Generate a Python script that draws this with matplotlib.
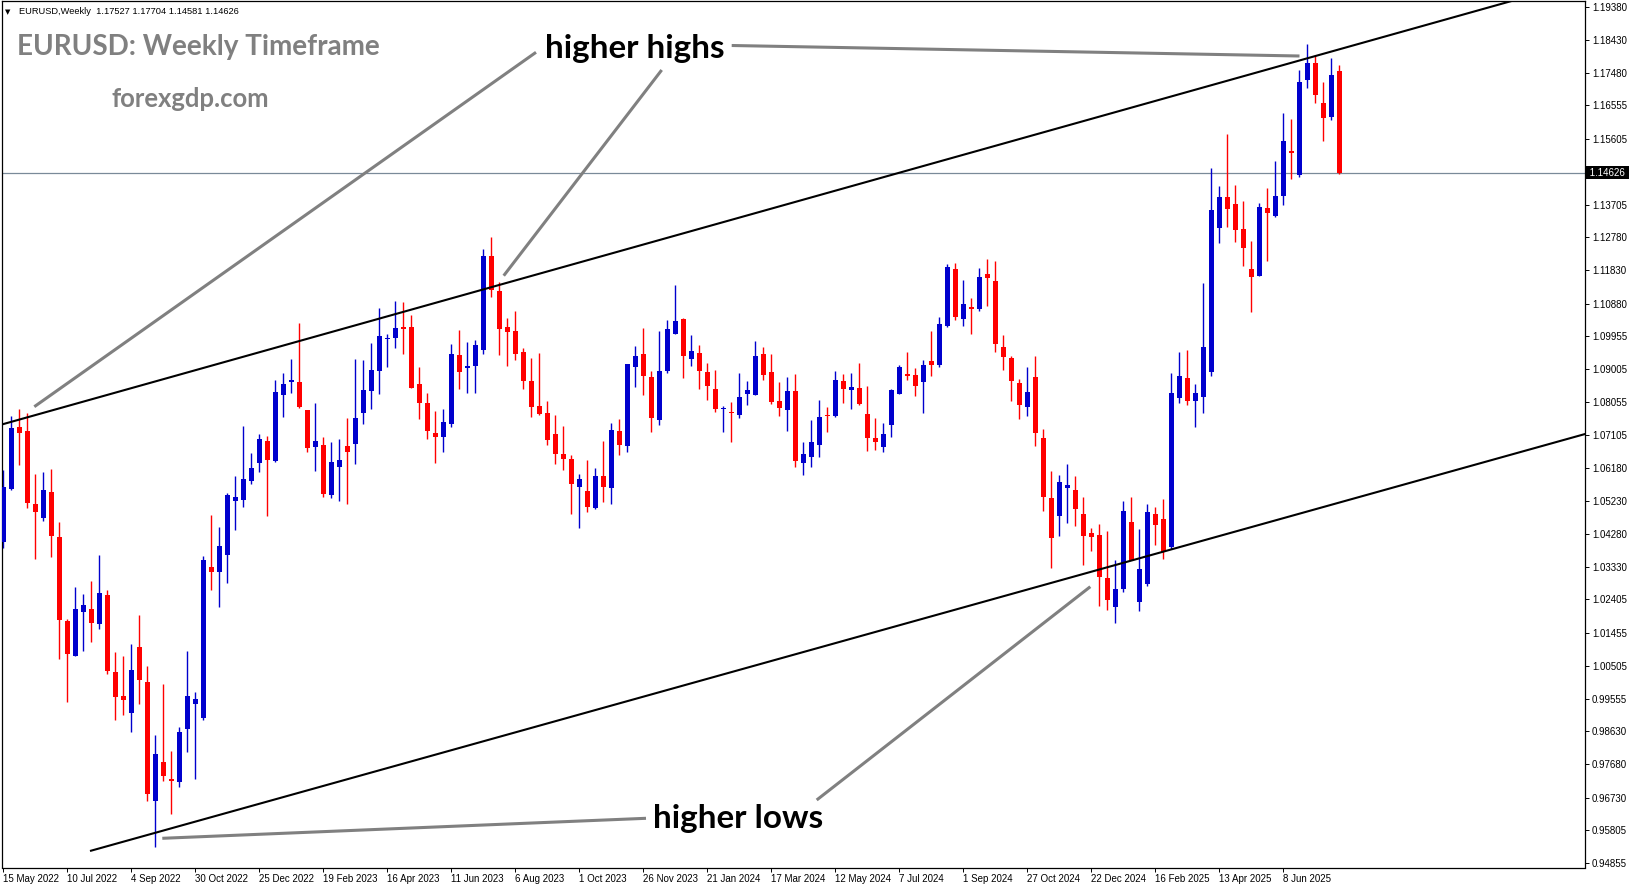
import matplotlib
matplotlib.use("Agg")
import matplotlib.pyplot as plt
import matplotlib.transforms as mtransforms
from matplotlib.lines import Line2D
import numpy as np

# ---------------- data (weekly EURUSD candles, 15 May 2022 .. 27 Jul 2025) ----------------
opens = [1.0406, 1.0557, 1.0734, 1.0723, 1.0514, 1.0475, 1.0548, 1.0419, 1.0179, 1.0077,
         1.0205, 1.0213, 1.0171, 1.0253, 1.0033, 0.9964, 0.9916, 1.0104, 1.0004, 0.9664,
         0.9775, 0.9727, 0.9718, 0.9870, 0.9942, 0.9901, 1.0333, 1.0320, 1.0369, 1.0523,
         1.0525, 1.0580, 1.0631, 1.0694, 1.0638, 1.0827, 1.0863, 1.0863, 1.0783, 1.0678,
         1.0683, 1.0540, 1.0620, 1.0680, 1.0687, 1.0773, 1.0838, 1.0896, 1.0987, 1.0990,
         1.1021, 1.1021, 1.0858, 1.0803, 1.0717, 1.0707, 1.0744, 1.0941, 1.0902, 1.0910,
         1.0956, 1.1225, 1.1124, 1.1021, 1.1009, 1.0949, 1.0866, 1.0795, 1.0774, 1.0715,
         1.0657, 1.0643, 1.0563, 1.0551, 1.0502, 1.0594, 1.0560, 1.0723, 1.0680, 1.0906,
         1.0944, 1.0878, 1.0754, 1.0895, 1.1002, 1.1044, 1.0930, 1.0946, 1.0892, 1.0843,
         1.0785, 1.0776, 1.0770, 1.0830, 1.0827, 1.0944, 1.0892, 1.0809, 1.0784, 1.0838,
         1.0632, 1.0647, 1.0684, 1.0769, 1.0767, 1.0866, 1.0841, 1.0846, 1.0772, 1.0703,
         1.0678, 1.0741, 1.0828, 1.0886, 1.0883, 1.0864, 1.0923, 1.0913, 1.1023, 1.1187,
         1.1045, 1.1078, 1.1073, 1.1173, 1.1153, 1.0964, 1.0932, 1.0860, 1.0793, 1.0878,
         1.0703, 1.0531, 1.0478, 1.0561, 1.0554, 1.0485, 1.0431, 1.0425, 1.0302, 1.0220,
         1.0271, 1.0462, 1.0234, 1.0286, 1.0485, 1.0471, 1.0392, 1.0818, 1.0875, 1.0810,
         1.0821, 1.0893, 1.1305, 1.1393, 1.1373, 1.1302, 1.1187, 1.1168, 1.1362, 1.1340,
         1.1397, 1.1525, 1.1457, 1.1729, 1.1777, 1.1662, 1.1623, 1.17527]
highs = [1.0611, 1.0766, 1.0786, 1.0774, 1.0600, 1.0605, 1.0614, 1.0462, 1.0184, 1.0276,
         1.0256, 1.0293, 1.0368, 1.0267, 1.0090, 1.0078, 1.0113, 1.0196, 1.0050, 0.9852,
         0.9998, 0.9807, 0.9876, 1.0093, 0.9975, 1.0366, 1.0482, 1.0448, 1.0545, 1.0594,
         1.0737, 1.0660, 1.0714, 1.0709, 1.0869, 1.0889, 1.0929, 1.1032, 1.0783, 1.0803,
         1.0706, 1.0691, 1.0700, 1.0760, 1.0929, 1.0926, 1.0975, 1.1075, 1.1001, 1.1095,
         1.1092, 1.1055, 1.0906, 1.0832, 1.0780, 1.0786, 1.0972, 1.1012, 1.0978, 1.0984,
         1.1245, 1.1279, 1.1149, 1.1047, 1.1067, 1.0961, 1.0933, 1.0946, 1.0809, 1.0769,
         1.0737, 1.0653, 1.0600, 1.0640, 1.0617, 1.0694, 1.0746, 1.0757, 1.0915, 1.0966,
         1.1018, 1.0895, 1.1009, 1.1041, 1.1141, 1.1047, 1.0998, 1.0969, 1.0918, 1.0898,
         1.0795, 1.0806, 1.0889, 1.0866, 1.0981, 1.0964, 1.0944, 1.0863, 1.0878, 1.0886,
         1.0691, 1.0754, 1.0812, 1.0792, 1.0895, 1.0886, 1.0889, 1.0918, 1.0852, 1.0760,
         1.0746, 1.0843, 1.0912, 1.0949, 1.0903, 1.0926, 1.1009, 1.1049, 1.1201, 1.1204,
         1.1155, 1.1104, 1.1190, 1.1216, 1.1210, 1.0998, 1.0938, 1.0872, 1.0906, 1.0938,
         1.0729, 1.0608, 1.0597, 1.0628, 1.0594, 1.0534, 1.0445, 1.0457, 1.0437, 1.0353,
         1.0522, 1.0534, 1.0442, 1.0514, 1.0505, 1.0528, 1.0889, 1.0949, 1.0955, 1.0858,
         1.1147, 1.1476, 1.1425, 1.1574, 1.1428, 1.1382, 1.1267, 1.1376, 1.1419, 1.1496,
         1.1634, 1.1617, 1.1757, 1.1831, 1.1800, 1.1723, 1.1791, 1.17704]
lows = [1.0387, 1.0554, 1.0626, 1.0503, 1.0356, 1.0466, 1.0363, 1.0069, 0.9948, 1.0077,
        1.0094, 1.0119, 1.0157, 1.0027, 0.9896, 0.9908, 0.9862, 0.9942, 0.9664, 0.9532,
        0.9721, 0.9626, 0.9702, 0.9804, 0.9727, 0.9896, 1.0267, 1.0220, 1.0288, 1.0440,
        1.0504, 1.0570, 1.0604, 1.0480, 1.0635, 1.0764, 1.0832, 1.0790, 1.0664, 1.0609,
        1.0535, 1.0532, 1.0523, 1.0515, 1.0629, 1.0744, 1.0787, 1.0830, 1.0907, 1.0962,
        1.0942, 1.0847, 1.0758, 1.0701, 1.0632, 1.0664, 1.0733, 1.0844, 1.0833, 1.0833,
        1.0942, 1.1108, 1.0941, 1.0909, 1.0927, 1.0844, 1.0764, 1.0770, 1.0683, 1.0629,
        1.0611, 1.0485, 1.0446, 1.0492, 1.0500, 1.0520, 1.0514, 1.0654, 1.0663, 1.0849,
        1.0826, 1.0720, 1.0740, 1.0889, 1.1002, 1.0875, 1.0909, 1.0844, 1.0813, 1.0778,
        1.0721, 1.0692, 1.0761, 1.0796, 1.0827, 1.0870, 1.0801, 1.0767, 1.0723, 1.0621,
        1.0598, 1.0621, 1.0647, 1.0721, 1.0764, 1.0804, 1.0787, 1.0798, 1.0667, 1.0669,
        1.0664, 1.0707, 1.0828, 1.0870, 1.0824, 1.0775, 1.0881, 1.0907, 1.1022, 1.1042,
        1.1025, 1.1002, 1.1068, 1.1082, 1.0950, 1.0899, 1.0810, 1.0758, 1.0767, 1.0681,
        1.0495, 1.0331, 1.0423, 1.0458, 1.0452, 1.0340, 1.0380, 1.0223, 1.0211, 1.0174,
        1.0263, 1.0354, 1.0208, 1.0280, 1.0397, 1.0357, 1.0386, 1.0804, 1.0796, 1.0733,
        1.0775, 1.0879, 1.1262, 1.1308, 1.1265, 1.1196, 1.1065, 1.1168, 1.1211, 1.1337,
        1.1371, 1.1446, 1.1451, 1.1706, 1.1663, 1.1555, 1.1615, 1.14581]
closes = [1.0563, 1.0732, 1.0718, 1.0518, 1.0492, 1.0554, 1.0423, 1.0182, 1.0085, 1.0213,
          1.0224, 1.0174, 1.0259, 1.0036, 0.9962, 0.9953, 1.0038, 1.0011, 0.9684, 0.9798,
          0.9736, 0.9721, 0.9861, 0.9964, 0.9955, 1.0353, 1.0320, 1.0393, 1.0540, 1.0534,
          1.0585, 1.0617, 1.0700, 1.0641, 1.0835, 1.0858, 1.0869, 1.0792, 1.0674, 1.0694,
          1.0543, 1.0634, 1.0640, 1.0664, 1.0760, 1.0840, 1.0898, 1.0995, 1.0989, 1.1018,
          1.1016, 1.0847, 1.0804, 1.0724, 1.0707, 1.0749, 1.0944, 1.0893, 1.0909, 1.0969,
          1.1225, 1.1127, 1.1015, 1.1007, 1.0944, 1.0867, 1.0793, 1.0772, 1.0697, 1.0658,
          1.0644, 1.0572, 1.0585, 1.0505, 1.0594, 1.0563, 1.0726, 1.0683, 1.0915, 1.0938,
          1.0880, 1.0760, 1.0895, 1.1015, 1.1038, 1.0939, 1.0952, 1.0896, 1.0853, 1.0787,
          1.0786, 1.0775, 1.0820, 1.0840, 1.0938, 1.0884, 1.0807, 1.0790, 1.0838, 1.0638,
          1.0657, 1.0691, 1.0763, 1.0767, 1.0869, 1.0844, 1.0849, 1.0801, 1.0704, 1.0690,
          1.0714, 1.0840, 1.0906, 1.0881, 1.0853, 1.0912, 1.0913, 1.1029, 1.1193, 1.1048,
          1.1087, 1.1073, 1.1164, 1.1162, 1.0973, 1.0936, 1.0867, 1.0796, 1.0835, 1.0718,
          1.0535, 1.0417, 1.0577, 1.0567, 1.0500, 1.0423, 1.0420, 1.0306, 1.0240, 1.0270,
          1.0494, 1.0354, 1.0328, 1.0491, 1.0455, 1.0377, 1.0832, 1.0880, 1.0810, 1.0832,
          1.0964, 1.1356, 1.1393, 1.1360, 1.1300, 1.1248, 1.1165, 1.1365, 1.1348, 1.1396,
          1.1554, 1.1520, 1.1723, 1.1777, 1.1686, 1.1620, 1.1743, 1.14626]

date_labels = ["15 May 2022", "10 Jul 2022", "4 Sep 2022", "30 Oct 2022", "25 Dec 2022",
               "19 Feb 2023", "16 Apr 2023", "11 Jun 2023", "6 Aug 2023", "1 Oct 2023",
               "26 Nov 2023", "21 Jan 2024", "17 Mar 2024", "12 May 2024", "7 Jul 2024",
               "1 Sep 2024", "27 Oct 2024", "22 Dec 2024", "16 Feb 2025", "13 Apr 2025",
               "8 Jun 2025"]
price_ticks = [1.19380, 1.18430, 1.17480, 1.16555, 1.15605, 1.13705, 1.12780, 1.11830,
               1.10880, 1.09955, 1.09005, 1.08055, 1.07105, 1.06180, 1.05230, 1.04280,
               1.03330, 1.02405, 1.01455, 1.00505, 0.99555, 0.98630, 0.97680, 0.96730,
               0.95805, 0.94855]
tick_text = ["1.19380", "1.18430", "1.17480", "1.16555", "1.15605", "1.13705", "1.12780",
             "1.11830", "1.10880", "1.09955", "1.09005", "1.08055", "1.07105", "1.06180",
             "1.05230", "1.04280", "1.03330", "1.02405", "1.01455", "1.00505", "0.99555",
             "0.98630", "0.97680", "0.96730", "0.95805", "0.94855"]
current_price = 1.14626
header = "EURUSD,Weekly  1.17527 1.17704 1.14581 1.14626"

# ---------------- figure ----------------
W, H = 1631, 888
fig = plt.figure(figsize=(W / 100, H / 100), dpi=100)
fig.patch.set_facecolor("white")
ax = fig.add_axes([2.5 / W, (H - 867.5) / H, (1585 - 2.5) / W, (867.5 - 1) / H])
ax.set_facecolor("white")

o = np.array(opens); h = np.array(highs); l = np.array(lows); c = np.array(closes)
idx = np.arange(len(o))
up = c >= o
cols = np.where(up, "#0000CD", "#FF0000")

ax.vlines(idx, l, h, colors=cols, lw=1.0, zorder=2)
body = np.maximum(np.abs(c - o), 0.0003)
ax.bar(idx, body, bottom=np.minimum(o, c), width=0.63, color=cols, linewidth=0, zorder=3)

ax.set_xlim(-0.125, 197.69)
ax.set_ylim(0.94725, 1.19546)

# pixel (full image, from top) -> data helper for annotation geometry
def px2d(x, y):
    return (x - 3.5) / 8.0, 1.1938 - (y - 6.8) / 3491.0

# trend lines (black)
a = px2d(0, 425); b = px2d(1600, 425 - 0.2805 * 1600)
ax.plot([a[0], b[0]], [a[1], b[1]], color="black", lw=1.5, zorder=4, solid_capstyle="butt")
a = px2d(90, 851); b = px2d(1600, 851 - 0.2789 * 1510)
ax.plot([a[0], b[0]], [a[1], b[1]], color="black", lw=1.5, zorder=4, solid_capstyle="butt")

# current price line
ax.axhline(current_price, color="#7a8a99", lw=0.9, zorder=1)

# grey pointer lines
def gline(x0, y0, x1, y1):
    fig.add_artist(Line2D([x0 / W, x1 / W], [1 - y0 / H, 1 - y1 / H], transform=fig.transFigure,
                          color="#808080", lw=2.2, solid_capstyle="butt"))

gline(34.3, 406.7, 536, 52.3)
gline(503.7, 275.7, 661.7, 70)
gline(731.7, 45.5, 1299.5, 56)
gline(162.3, 838.3, 646, 818.3)
gline(816.7, 800, 1090.3, 586.7)

# axes styling
for s in ax.spines.values():
    s.set_color("black"); s.set_linewidth(0.9)
ax.yaxis.tick_right()
ax.set_yticks(price_ticks)
ax.set_yticklabels(tick_text, fontsize=7, family="Liberation Sans")
ax.tick_params(axis="y", direction="out", length=3, width=0.7, pad=2)
ax.set_xticks([i * 8 - 0.1 for i in range(len(date_labels))])
ax.set_xticklabels(date_labels, fontsize=7, family="Liberation Sans", ha="left")
ax.tick_params(axis="x", direction="out", length=3, width=0.7, pad=1.5)

trans = mtransforms.blended_transform_factory(ax.transAxes, ax.transData)
ax.text(1.001, current_price, " 1.14626 ", transform=trans, ha="left", va="center", fontsize=7,
        family="Liberation Sans", color="white", clip_on=False,
        bbox=dict(facecolor="black", edgecolor="none", pad=1.2))

# texts fitted to widths
renderer = fig.canvas.get_renderer()

def fit_text(s, x_left, baseline, width, **kw):
    t = fig.text(x_left / W, 1 - baseline / H, s, ha="left", va="baseline", fontsize=20, **kw)
    bb = t.get_window_extent(renderer)
    t.set_fontsize(20 * width / bb.width)
    return t

fit_text("EURUSD: Weekly Timeframe", 16.7, 55, 363, color="#808080", weight="bold", family="Lato")
fit_text("forexgdp.com", 111.7, 107, 158, color="#808080", weight="bold", family="Lato")
fit_text("higher highs", 545, 58.3, 179, color="black", weight="bold", family="Lato")
fit_text("higher lows", 653.3, 828.3, 169.4, color="black", weight="bold", family="Lato")
fit_text(header, 18.7, 14, 219.5, color="black", family="Liberation Sans")
fig.text(5 / W, 1 - 14 / H, "\u25BC", fontsize=5, color="black", ha="left", va="baseline")

fig.savefig("out.png", dpi=100, facecolor="white")
